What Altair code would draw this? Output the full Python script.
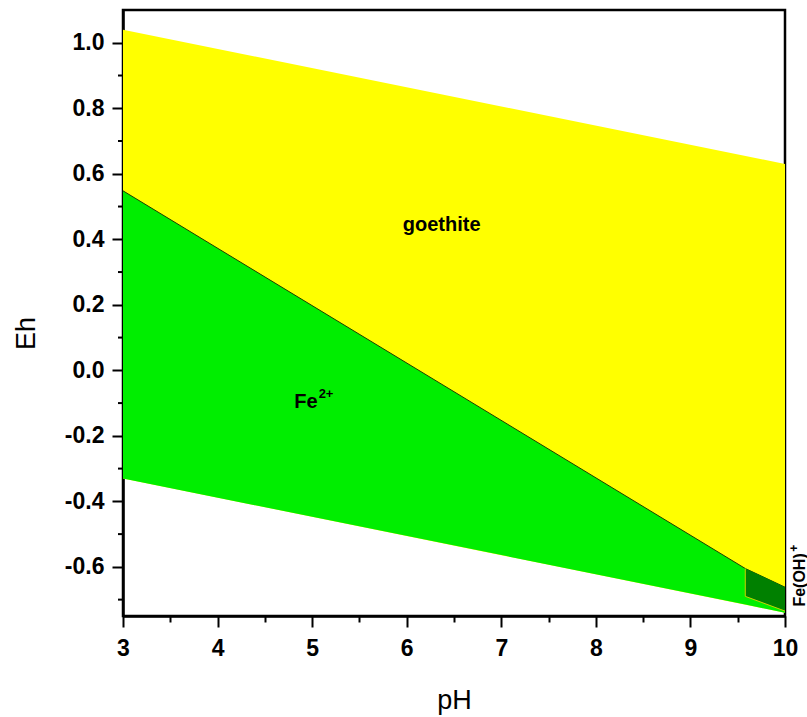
import altair as alt
import pandas as pd

# ---- data ----
water_ph = [3, 10]
o2_eh = [1.04, 0.63]        # upper water stability line
h2_eh = [-0.33, -0.74]      # lower water stability line

fe2_ph = [3, 9.58, 10]
fe2_top = [0.548, -0.605, -0.662]     # Fe2+ / goethite boundary
fe2_bottom = [-0.33, -0.715, -0.74]   # lower water line

feoh_ph = [9.58, 10]
feoh_top = [-0.605, -0.662]
feoh_bottom = [-0.69, -0.735]

edge_ph = [9.58, 9.58, 10]
edge_eh = [-0.605, -0.69, -0.735]
edge_order = [0, 1, 2]

x_ticks = [3, 3.5, 4, 4.5, 5, 5.5, 6, 6.5, 7, 7.5, 8, 8.5, 9, 9.5, 10]
y_major_ticks = [-0.6, -0.4, -0.2, 0.0, 0.2, 0.4, 0.6, 0.8, 1.0]
y_minor_ticks = [-0.7, -0.5, -0.3, -0.1, 0.1, 0.3, 0.5, 0.7, 0.9]

label_text = ["goethite", "Fe", "2+"]
label_ph = [6.37, 4.935, 5.147]
label_eh = [0.445, -0.096, -0.072]
label_size = [20, 20, 13]

rot_text = ["Fe(OH)", "+"]
rot_ph = [10.16, 10.1]
rot_eh = [-0.64, -0.543]
rot_size = [16, 12]

# ---- tables ----
water = pd.DataFrame({"ph": water_ph, "o2": o2_eh, "h2": h2_eh})
fe2 = pd.DataFrame({"ph": fe2_ph, "top": fe2_top, "bottom": fe2_bottom})
feoh = pd.DataFrame({"ph": feoh_ph, "top": feoh_top, "bottom": feoh_bottom})
edge = pd.DataFrame({"ph": edge_ph, "eh": edge_eh, "o": edge_order})
labels = pd.DataFrame({"t": label_text, "ph": label_ph, "eh": label_eh, "s": label_size})
rot = pd.DataFrame({"t": rot_text, "ph": rot_ph, "eh": rot_eh, "s": rot_size})
yminor = pd.DataFrame({"eh": y_minor_ticks})

FONT = "Liberation Sans"

x_major = "round(datum.value * 2) % 2 == 0"

x_axis = alt.Axis(
    values=x_ticks,
    labelExpr=f"({x_major}) ? format(datum.value, 'd') : ''",
    tickSize={"condition": {"test": x_major, "value": 11}, "value": 6},
    tickWidth=2, tickColor="black",
    domainColor="black", domainWidth=2.5,
    grid=False, labelOverlap=False, labelFlush=False,
    labelFont=FONT, labelFontWeight="bold", labelFontSize=23, labelColor="black",
    labelPadding=10,
    title="pH", titleFont=FONT, titleFontWeight="normal", titleFontSize=27,
    titleColor="black", titleBaseline="alphabetic", titleY=92, titleX=331,
    titleAlign="center",
)
y_axis = alt.Axis(
    values=y_major_ticks,
    labelExpr="(datum.value < 0 ? '-' : '') + format(abs(datum.value), '.1f')",
    tickSize=11,
    tickWidth=2, tickColor="black",
    domainColor="black", domainWidth=2.5,
    grid=False, labelOverlap=False, labelFlush=False,
    labelFont=FONT, labelFontWeight="bold", labelFontSize=23, labelColor="black",
    labelPadding=8,
    title="Eh", titleFont=FONT, titleFontWeight="normal", titleFontSize=27,
    titleColor="black", titleAngle=270, titleBaseline="alphabetic",
    titleAlign="center", titleX=-89, titleY=323,
)

xs = alt.Scale(domain=[3, 10], nice=False, zero=False)
ys = alt.Scale(domain=[-0.75, 1.1], nice=False, zero=False)

yellow = alt.Chart(water).mark_area(color="#ffff00").encode(
    x=alt.X("ph:Q", scale=xs, axis=x_axis),
    y=alt.Y("o2:Q", scale=ys, axis=y_axis),
    y2="h2:Q",
)

green = alt.Chart(fe2).mark_area(color="#00ee00").encode(
    x=alt.X("ph:Q", scale=xs), y=alt.Y("top:Q", scale=ys), y2="bottom:Q"
)

boundary = alt.Chart(fe2).mark_line(color="#1f3d00", strokeWidth=1).encode(
    x=alt.X("ph:Q", scale=xs), y=alt.Y("top:Q", scale=ys)
)

dark = alt.Chart(feoh).mark_area(color="#008000").encode(
    x=alt.X("ph:Q", scale=xs), y=alt.Y("top:Q", scale=ys), y2="bottom:Q"
)

edge_line = alt.Chart(edge).mark_line(color="#c8d200", strokeWidth=1).encode(
    x=alt.X("ph:Q", scale=xs), y=alt.Y("eh:Q", scale=ys), order="o:Q"
)

minor_y = alt.Chart(yminor).mark_rule(color="black", strokeWidth=2).encode(
    y=alt.Y("eh:Q", scale=ys), x=alt.value(-5), x2=alt.value(0)
)

text = alt.Chart(labels).mark_text(
    font=FONT, fontWeight="bold", color="black", align="center", baseline="middle"
).encode(
    x=alt.X("ph:Q", scale=xs), y=alt.Y("eh:Q", scale=ys), text="t:N",
    size=alt.Size("s:Q", scale=None, legend=None),
)

rot_label = alt.Chart(rot).mark_text(
    font=FONT, fontWeight="bold", color="black", align="center",
    baseline="middle", angle=270,
).encode(
    x=alt.X("ph:Q", scale=xs), y=alt.Y("eh:Q", scale=ys), text="t:N",
    size=alt.Size("s:Q", scale=None, legend=None),
)

chart = alt.layer(
    yellow, green, boundary, dark, edge_line, minor_y, text, rot_label
).properties(
    width=662, height=606,
    autosize=alt.AutoSizeParams(type="none"),
    padding={"left": 123, "top": 10, "right": 22, "bottom": 101},
    background="white",
).configure_view(stroke="black", strokeWidth=2.5)

chart.save("out.html", embed_options={"renderer": "svg", "actions": False})
